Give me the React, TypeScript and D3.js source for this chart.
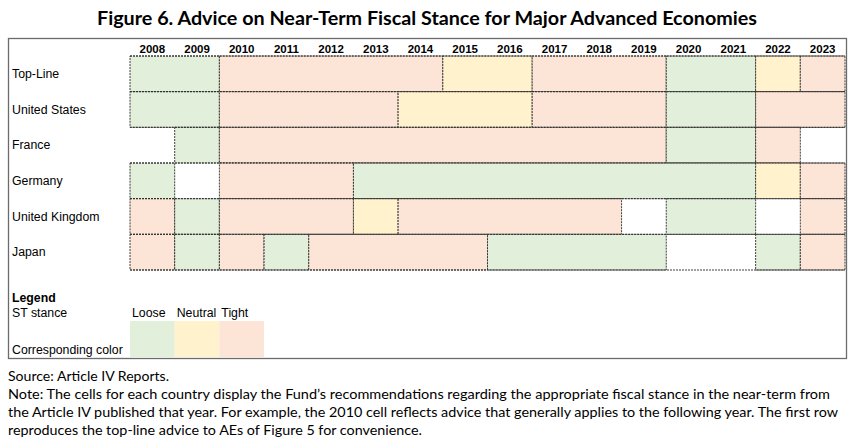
import React from "react";
import * as d3 from "d3";

const years = ["2008","2009","2010","2011","2012","2013","2014","2015","2016","2017","2018","2019","2020","2021","2022","2023"];
const countries = ["Top-Line","United States","France","Germany","United Kingdom","Japan"];
// L = Loose, N = Neutral, T = Tight, "" = no advice
const topLine = ["L","L","T","T","T","T","T","N","N","T","T","T","L","L","N","T"];
const unitedStates = ["L","L","T","T","T","T","N","N","N","T","T","T","L","L","T","T"];
const france = ["","L","T","T","T","T","T","T","T","T","T","T","L","L","T",""];
const germany = ["L","","T","T","T","L","L","L","L","L","L","L","L","L","N","T"];
const unitedKingdom = ["T","L","T","T","T","N","T","T","T","T","T","","L","L","","T"];
const japan = ["T","L","T","L","T","T","T","T","L","L","L","L","","","L","T"];
const stances = ["L","N","T"];
const stanceLabels = ["Loose","Neutral","Tight"];
const stanceColors = ["#E2EFDA","#FFF2CC","#FCE4D6"];

const rows = [topLine, unitedStates, france, germany, unitedKingdom, japan];

const title = "Figure 6. Advice on Near-Term Fiscal Stance for Major Advanced Economies";
const noteLines = [
  "Source: Article IV Reports.",
  "Note: The cells for each country display the Fund\u2019s recommendations regarding the appropriate fiscal stance in the near-term from",
  "the Article IV published that year. For example, the 2010 cell reflects advice that generally applies to the following year. The first row",
  "reproduces the top-line advice to AEs of Figure 5 for convenience.",
];
const noteWidths = [161, 822, 830, 414];

type Run = { start: number; end: number; v: string };
function runs(arr: string[]): Run[] {
  const out: Run[] = [];
  arr.forEach((v, i) => {
    const last = out[out.length - 1];
    if (last && last.v === v) last.end = i;
    else out.push({ start: i, end: i, v });
  });
  return out;
}

export default function App() {
  const W = 855, H = 445;
  const x = d3.scaleBand<string>().domain(years).range([130, 845]).padding(0);
  const y = d3.scaleBand<string>().domain(countries).range([56, 270]).padding(0);
  const color = d3.scaleOrdinal<string, string>().domain(stances).range(stanceColors);
  const lx = d3.scaleBand<string>().domain(stances).range([130, 264]);
  const bw = x.bandwidth();
  const dash = "2,1";
  const font = "Arial, 'Liberation Sans', sans-serif";
  return (
    <svg width={W} height={H} style={{ position: "absolute", left: 0, top: 0, background: "#fff" }}>
      <text x={427} y={25} textAnchor="middle" fontFamily="Lato, 'Open Sans', sans-serif" fontWeight="bold" fontSize={18} textLength={660} lengthAdjust="spacingAndGlyphs">{title}</text>
      <rect x={8.5} y={38.5} width={838} height={320} fill="none" stroke="#6b6b6b" strokeWidth={1.3} />
      {years.map((yr) => (
        <text key={yr} x={(x(yr) as number) + bw / 2} y={52.5} textAnchor="middle" fontFamily={font} fontWeight="bold" fontSize={11.5}>{yr}</text>
      ))}
      {countries.map((c, ri) => {
        const y0 = y(c) as number;
        const h = y.bandwidth();
        return (
          <g key={c}>
            <text x={12} y={y0 + h / 2 + 4} fontFamily={font} fontSize={12.3}>{c}</text>
            {runs(rows[ri]).filter((r) => r.v !== "").map((r) => (
              <rect key={r.start} x={x(years[r.start]) as number} y={y0} width={bw * (r.end - r.start + 1)} height={h} fill={color(r.v)} stroke="#2b2b2b" strokeWidth={0.9} strokeDasharray={dash} />
            ))}
          </g>
        );
      })}
      {countries.concat(["__end"]).map((c, i) => {
        const yy = i < countries.length ? (y(c) as number) : (y.range()[1] as number);
        return <line key={"h" + i} x1={130} x2={845} y1={yy} y2={yy} stroke="#2b2b2b" strokeWidth={0.9} strokeDasharray={dash} />;
      })}
      <text x={12} y={301.5} fontFamily={font} fontWeight="bold" fontSize={12.3}>Legend</text>
      <text x={12} y={317} fontFamily={font} fontSize={12.3}>ST stance</text>
      <text x={12} y={354} fontFamily={font} fontSize={12.3}>Corresponding color</text>
      {stances.map((s, i) => (
        <g key={s}>
          <text x={(lx(s) as number) + 2} y={317} fontFamily={font} fontSize={12.3}>{stanceLabels[i]}</text>
          <rect x={lx(s) as number} y={321} width={lx.bandwidth()} height={36} fill={color(s)} />
        </g>
      ))}
      {noteLines.map((t, i) => (
        <text key={i} x={8} y={381 + i * 18} fontFamily="Lato, 'Open Sans', sans-serif" fontSize={14} textLength={noteWidths[i]} lengthAdjust="spacingAndGlyphs">{t}</text>
      ))}
    </svg>
  );
}
